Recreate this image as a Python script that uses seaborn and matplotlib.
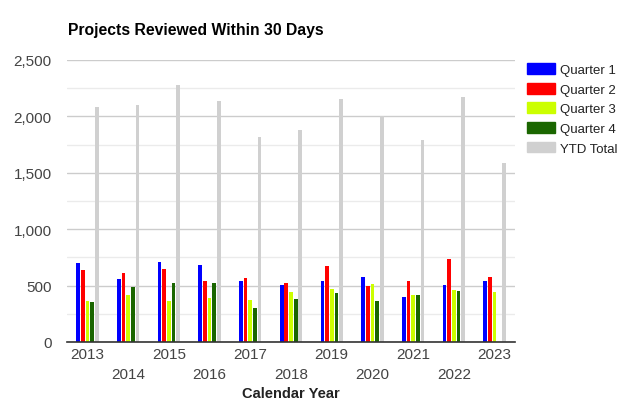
import matplotlib
matplotlib.use("Agg")
import matplotlib.pyplot as plt
import matplotlib.patches as mpatches
from matplotlib.ticker import MultipleLocator, FuncFormatter
from matplotlib.transforms import ScaledTranslation
import seaborn as sns
import pandas as pd

years = [str(y) for y in range(2013, 2024)]
series = ["Quarter 1", "Quarter 2", "Quarter 3", "Quarter 4", "YTD Total"]
q1 = [700, 558, 712, 683, 541, 508, 541, 579, 396, 508, 541]
q2 = [641, 612, 650, 541, 567, 520, 674, 496, 541, 733, 579]
q3 = [366, 417, 366, 387, 375, 446, 467, 517, 417, 458, 446]
q4 = [357, 488, 520, 520, 304, 378, 437, 366, 417, 449, 0]
ytd = [2081, 2101, 2281, 2139, 1814, 1879, 2151, 2003, 1788, 2172, 1584]
colors = ["#0000ff", "#ff0000", "#ccff00", "#1a6600", "#d0d0d0"]

rows = []
for name, vals in zip(series, [q1, q2, q3, q4, ytd]):
    for yr, v in zip(years, vals):
        rows.append({"Year": yr, "Value": v, "Series": name})
df = pd.DataFrame(rows)

sns.set_style("white")
plt.rcParams['font.family'] = ['Arial', 'Liberation Sans', 'DejaVu Sans']

W, H = 621, 402
fig = plt.figure(figsize=(W / 100, H / 100), dpi=100)
ax = fig.add_axes([67 / W, (H - 343) / H, 448 / W, 282 / H])

sns.barplot(data=df, x="Year", y="Value", hue="Series", hue_order=series,
            palette=colors, width=0.57, gap=0.2, saturation=1, linewidth=0,
            legend=False, ax=ax, zorder=3)

ax.set_ylim(0, 2500)
ax.yaxis.set_major_locator(MultipleLocator(500))
ax.yaxis.set_minor_locator(MultipleLocator(250))
ax.yaxis.set_major_formatter(FuncFormatter(lambda v, p: f"{int(v):,}"))
ax.grid(axis="y", which="major", color="#cccccc", linewidth=1, zorder=0)
ax.grid(axis="y", which="minor", color="#ebebeb", linewidth=1, zorder=0)
ax.set_axisbelow(True)
for s in ["top", "right", "left"]:
    ax.spines[s].set_visible(False)
ax.spines["bottom"].set_color("#333333")
ax.spines["bottom"].set_linewidth(1.2)
ax.spines["bottom"].set_zorder(5)

ax.tick_params(axis="both", length=0, labelsize=11, colors="#444444")
ax.tick_params(axis="y", pad=11)
ax.tick_params(axis="x", pad=3.5)

ax.set_ylabel("")
ax.set_xlabel("Calendar Year", fontsize=10.5, fontweight="bold", color="#222222", va="baseline")
ax.xaxis.set_label_coords(0.5, -(398 - 343) / 282)

# stagger every other year label onto a second row
for i, lab in enumerate(ax.get_xticklabels()):
    if i % 2 == 1:
        lab.set_transform(lab.get_transform() + ScaledTranslation(0, -20 / 100, fig.dpi_scale_trans))

fig.text(68 / W, 1 - 35 / H, "Projects Reviewed Within 30 Days", fontsize=11.3,
         fontweight="bold", color="#000000", va="baseline")

handles = [mpatches.Patch(color=c, label=n) for c, n in zip(colors, series)]
fig.legend(handles=handles, loc="upper left", bbox_to_anchor=(527 / W, 1 - 64 / H),
           frameon=False, fontsize=9.5, handlelength=2.15, handleheight=0.9,
           handletextpad=0.35, labelspacing=0.5, labelcolor="#222222",
           borderaxespad=0, borderpad=0)

fig.savefig("out.png", dpi=100)
